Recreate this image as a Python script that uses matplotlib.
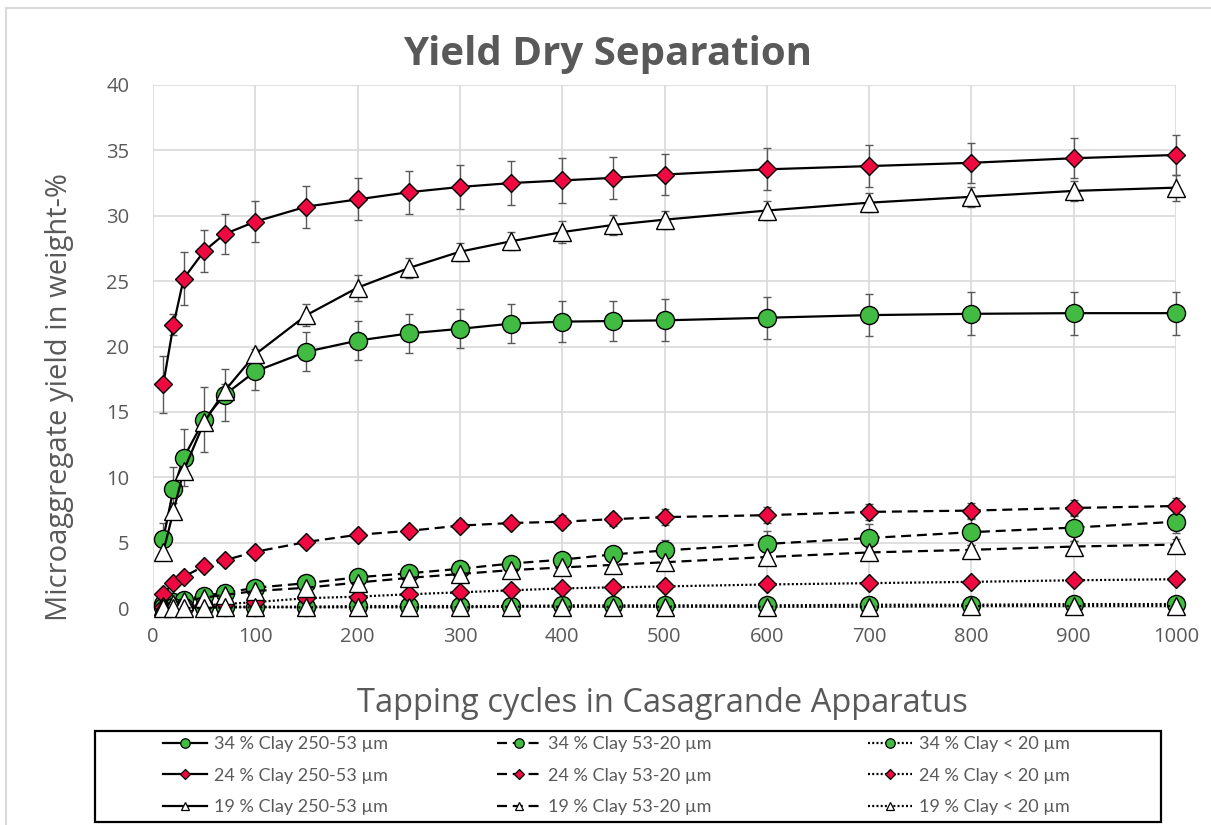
import matplotlib
matplotlib.use("Agg")
import matplotlib.pyplot as plt
from matplotlib.lines import Line2D
from matplotlib.patches import Rectangle

# Tapping cycles
cycles = [10, 20, 30, 50, 70, 100, 150, 200, 250, 300, 350, 400, 450, 500,
          600, 700, 800, 900, 1000]

# 34 % clay
clay34_250_53 = [5.3, 9.1, 11.5, 14.4, 16.3, 18.1, 19.6, 20.45, 21.0, 21.35, 21.75,
                 21.9, 21.95, 22.0, 22.2, 22.4, 22.5, 22.55, 22.55]
clay34_250_53_sd = [1.2, 1.7, 2.2, 2.5, 2.0, 1.4, 1.5, 1.5, 1.5, 1.5, 1.5,
                    1.55, 1.55, 1.6, 1.6, 1.6, 1.65, 1.65, 1.65]
clay34_53_20 = [0.3, 0.45, 0.65, 0.95, 1.15, 1.55, 1.9, 2.35, 2.65, 3.0, 3.4,
                3.7, 4.1, 4.4, 4.9, 5.35, 5.8, 6.15, 6.6]
clay34_53_20_sd = [0.2, 0.2, 0.2, 0.2, 0.2, 0.3, 0.3, 0.3, 0.4, 0.4, 0.5,
                   0.5, 0.6, 0.8, 1.0, 1.1, 1.0, 1.0, 0.9]
clay34_lt20 = [0.05, 0.05, 0.05, 0.1, 0.1, 0.1, 0.1, 0.15, 0.15, 0.15, 0.15,
               0.2, 0.2, 0.2, 0.2, 0.25, 0.25, 0.3, 0.3]
clay34_lt20_sd = [0.05] * 19

# 24 % clay
clay24_250_53 = [17.1, 21.65, 25.2, 27.3, 28.6, 29.55, 30.7, 31.25, 31.8, 32.2, 32.5,
                 32.7, 32.9, 33.15, 33.55, 33.8, 34.05, 34.4, 34.65]
clay24_250_53_sd = [2.2, 0.8, 2.0, 1.6, 1.55, 1.55, 1.6, 1.6, 1.65, 1.65, 1.65,
                    1.7, 1.6, 1.6, 1.6, 1.6, 1.55, 1.55, 1.55]
clay24_53_20 = [1.1, 1.9, 2.4, 3.2, 3.65, 4.3, 5.05, 5.6, 5.9, 6.3, 6.5,
                6.6, 6.8, 6.95, 7.1, 7.35, 7.45, 7.65, 7.8]
clay24_53_20_sd = [0.2, 0.2, 0.2, 0.3, 0.3, 0.3, 0.3, 0.3, 0.4, 0.4, 0.4,
                   0.5, 0.5, 0.6, 0.6, 0.6, 0.6, 0.6, 0.6]
clay24_lt20 = [0.05, 0.1, 0.15, 0.2, 0.3, 0.45, 0.75, 0.87, 1.05, 1.2, 1.35,
               1.5, 1.58, 1.65, 1.8, 1.9, 2.0, 2.12, 2.2]
clay24_lt20_sd = [0.05] * 19

# 19 % clay
clay19_250_53 = [4.3, 7.4, 10.5, 14.2, 16.6, 19.4, 22.4, 24.5, 26.0, 27.25, 28.05,
                 28.75, 29.3, 29.7, 30.4, 31.0, 31.45, 31.9, 32.15]
clay19_250_53_sd = [0.5, 0.6, 0.5, 0.6, 0.5, 0.4, 0.85, 1.0, 0.75, 0.7, 0.7,
                    0.85, 0.75, 0.7, 0.7, 0.75, 0.75, 0.75, 1.0]
clay19_53_20 = [0.15, 0.3, 0.5, 0.8, 1.0, 1.3, 1.55, 1.95, 2.3, 2.6, 2.9,
                3.1, 3.3, 3.5, 3.9, 4.25, 4.45, 4.7, 4.85]
clay19_53_20_sd = [0.1, 0.1, 0.1, 0.2, 0.2, 0.2, 0.3, 0.3, 0.3, 0.3, 0.3,
                   0.3, 0.4, 0.4, 0.4, 0.4, 0.4, 0.4, 0.4]
clay19_lt20 = [0.0, 0.0, 0.0, 0.0, 0.05, 0.05, 0.05, 0.05, 0.05, 0.05, 0.1,
               0.1, 0.1, 0.1, 0.1, 0.1, 0.15, 0.15, 0.15]
clay19_lt20_sd = [0.05] * 19

GREEN = "#41BB41"
RED = "#EF0941"
GRAY_TXT = "#595959"
GRID = "#D9D9D9"

SOLID = "-"
DASHED = (0, (4.5, 2.6))
DOTTED = (0, (0.9, 1.0))

series = [
    ("34 % Clay 250-53 µm", clay34_250_53, clay34_250_53_sd, "o", GREEN, SOLID),
    ("34 % Clay 53-20 µm", clay34_53_20, clay34_53_20_sd, "o", GREEN, DASHED),
    ("34 % Clay < 20 µm", clay34_lt20, clay34_lt20_sd, "o", GREEN, DOTTED),
    ("24 % Clay 250-53 µm", clay24_250_53, clay24_250_53_sd, "D", RED, SOLID),
    ("24 % Clay 53-20 µm", clay24_53_20, clay24_53_20_sd, "D", RED, DASHED),
    ("24 % Clay < 20 µm", clay24_lt20, clay24_lt20_sd, "D", RED, DOTTED),
    ("19 % Clay 250-53 µm", clay19_250_53, clay19_250_53_sd, "^", "white", SOLID),
    ("19 % Clay 53-20 µm", clay19_53_20, clay19_53_20_sd, "^", "white", DASHED),
    ("19 % Clay < 20 µm", clay19_lt20, clay19_lt20_sd, "^", "white", DOTTED),
]
marker_size = {"o": 13.0, "D": 8.8, "^": 12.5}
legend_marker_size = {"o": 6.8, "D": 4.8, "^": 6.2}

W, H = 1211, 825
fig = plt.figure(figsize=(W / 100, H / 100), dpi=100)
fig.patch.set_facecolor("white")

# light chart-area border
fig.patches.append(Rectangle((5.5 / W, -0.1), 1.2, 1.1 - 8.5 / H,
                             transform=fig.transFigure, fill=False,
                             edgecolor=GRID, linewidth=1.5, zorder=0))

ax = fig.add_axes([153 / W, 1 - 608 / H, (1176 - 153) / W, (608 - 85) / H])
ax.set_xlim(0, 1000)
ax.set_ylim(0, 40)
ax.set_xticks(range(0, 1001, 100))
ax.set_yticks(range(0, 41, 5))
ax.grid(True, color=GRID, linewidth=1.2, zorder=0)
ax.set_axisbelow(True)
for s in ax.spines.values():
    s.set_visible(False)
ax.tick_params(length=0, labelsize=14.5, labelcolor=GRAY_TXT, pad=14)
ax.tick_params(axis="y", pad=17)
for lab in ax.get_xticklabels() + ax.get_yticklabels():
    lab.set_fontfamily("Open Sans")

handles = []
for i, (label, vals, sd, mk, fc, ls) in enumerate(series):
    ax.errorbar(cycles, vals, yerr=sd, fmt="none", ecolor="#595959",
                elinewidth=1.0, capsize=3, capthick=1.0, zorder=2 + i * 0.1,
                clip_on=False)
    ax.plot(cycles, vals, linestyle=ls, color="black", linewidth=1.6,
            marker=mk, markersize=marker_size[mk], markerfacecolor=fc,
            markeredgecolor="black", markeredgewidth=1.0, zorder=3 + i * 0.1,
            clip_on=False)
    handles.append(Line2D([], [], linestyle=ls, color="black", linewidth=1.6,
                          marker=mk, markersize=legend_marker_size[mk],
                          markerfacecolor=fc, markeredgecolor="black",
                          markeredgewidth=0.9, label=label))

fig.text(608 / W, 1 - 54 / H, "Yield Dry Separation", ha="center", va="center",
         fontsize=29, fontweight="bold", color=GRAY_TXT, family="Open Sans")
fig.text(60 / W, 1 - 397 / H, "Microaggregate yield in weight-%", ha="center",
         va="center", rotation=90, fontsize=21, color=GRAY_TXT, family="Open Sans")
fig.text(662 / W, 1 - 703 / H, "Tapping cycles in Casagrande Apparatus",
         ha="center", va="center", fontsize=23.5, color=GRAY_TXT, family="Open Sans")

# legend frame
fig.patches.append(Rectangle((95 / W, 1 - 822 / H), (1161 - 95) / W, (822 - 731) / H,
                             transform=fig.transFigure, fill=False,
                             edgecolor="black", linewidth=1.6, zorder=5))

col_x = [163, 497, 868]
for c in range(3):
    col_handles = [handles[r * 3 + c] for r in range(3)]
    leg = fig.legend(handles=col_handles, loc="upper left",
                     bbox_to_anchor=(col_x[c] / W, 1 - 736 / H),
                     frameon=False, borderpad=0, borderaxespad=0,
                     handlelength=2.45, handletextpad=0.4, labelspacing=0.86,
                     prop={"family": "Lato", "size": 13})
    for t in leg.get_texts():
        t.set_color(GRAY_TXT)

fig.savefig("out.png", dpi=100, facecolor="white")
